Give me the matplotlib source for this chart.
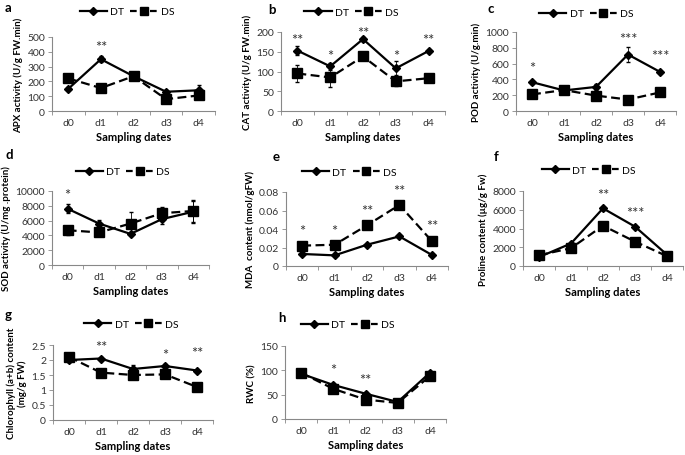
import numpy as np
import matplotlib.pyplot as plt
from matplotlib.ticker import FuncFormatter
from matplotlib.lines import Line2D

plt.rcParams['font.family'] = ['Lato', 'DejaVu Sans']

days = ['d0', 'd1', 'd2', 'd3', 'd4']

# panel data: DT / DS means and error bars
apx_dt = [150, 350, 235, 130, 140]
apx_ds = [220, 155, 235, 80, 105]
apx_dt_err = [10, 20, 10, 15, 35]
apx_ds_err = [10, 10, 10, 15, 15]

cat_dt = [153, 113, 182, 108, 152]
cat_ds = [95, 85, 138, 75, 83]
cat_dt_err = [12, 8, 5, 18, 3]
cat_ds_err = [22, 25, 5, 12, 10]

pod_dt = [365, 260, 305, 715, 495]
pod_ds = [210, 265, 195, 145, 235]
pod_dt_err = [20, 30, 40, 100, 10]
pod_ds_err = [15, 55, 20, 10, 15]

sod_dt = [7600, 5600, 4200, 6200, 7200]
sod_ds = [4700, 4400, 5600, 7000, 7300]
sod_dt_err = [600, 500, 200, 600, 1500]
sod_ds_err = [600, 300, 1500, 800, 1500]

mda_dt = [0.013, 0.0115, 0.023, 0.032, 0.012]
mda_ds = [0.022, 0.023, 0.044, 0.066, 0.027]
mda_dt_err = [0.001, 0.001, 0.001, 0.001, 0.001]
mda_ds_err = [0.001, 0.001, 0.001, 0.001, 0.001]

pro_dt = [950, 2400, 6150, 4200, 1200]
pro_ds = [1150, 1900, 4300, 2600, 1050]
pro_dt_err = [100, 150, 150, 100, 100]
pro_ds_err = [100, 150, 150, 100, 100]

chl_dt = [2.0, 2.05, 1.7, 1.8, 1.65]
chl_ds = [2.1, 1.58, 1.5, 1.52, 1.1]
chl_dt_err = [0.05, 0.05, 0.12, 0.07, 0.03]
chl_ds_err = [0.05, 0.1, 0.1, 0.05, 0.03]

rwc_dt = [93, 70, 52, 35, 95]
rwc_ds = [95, 62, 40, 33, 88]
rwc_dt_err = [2, 3, 3, 2, 2]
rwc_ds_err = [2, 3, 3, 2, 2]

# significance stars: (day index, y, text)
apx_stars = [(1, 430, '**')]
cat_stars = [(0, 180, '**'), (1, 140, '*'), (2, 198, '**'), (3, 140, '*'), (4, 180, '**')]
pod_stars = [(0, 550, '*'), (3, 910, '***'), (4, 690, '***')]
sod_stars = [(0, 9500, '*')]
mda_stars = [(0, 0.038, '*'), (1, 0.038, '*'), (2, 0.059, '**'), (3, 0.081, '**'), (4, 0.043, '**')]
pro_stars = [(2, 7600, '**'), (3, 5700, '***')]
chl_stars = [(1, 2.45, '**'), (3, 2.15, '*'), (4, 2.25, '**')]
rwc_stars = [(1, 100, '*'), (2, 80, '**')]

W, H = 685, 456
fig = plt.figure(figsize=(W / 100, H / 100), dpi=100)


def px_axes(l, t, r, b):
    return fig.add_axes([l / W, 1 - b / H, (r - l) / W, (b - t) / H])


def panel(box, letter, lpos, dt, ds, dte, dse, ymax, ystep, ylabel, stars,
          leg_x=0.45, leg_y=1.27):
    ax = px_axes(*box)
    x = np.arange(1, 6)
    ax.errorbar(x, dt, yerr=dte, color='black', lw=1.6, marker='D', ms=4,
                capsize=1.5, elinewidth=0.6)
    ax.errorbar(x, ds, yerr=dse, color='black', lw=1.6, ls=(0, (4, 2)),
                marker='s', ms=7, capsize=1.5, elinewidth=0.6)
    ax.set_xlim(0.5, 5.5)
    ax.set_ylim(0, ymax)
    ax.set_yticks(np.arange(0, ymax + ystep / 2, ystep))
    ax.yaxis.set_major_formatter(FuncFormatter(lambda v, p: '%g' % round(v, 4)))
    ax.set_xticks(np.arange(0.5, 6, 1))
    ax.set_xticklabels([])
    ax.set_xticks(x, minor=True)
    ax.set_xticklabels(days, minor=True)
    ax.tick_params(axis='x', which='minor', length=0, pad=5, labelsize=7.5,
                   colors='#333333')
    ax.tick_params(axis='x', which='major', length=3, width=0.6, color='#888888')
    ax.tick_params(axis='y', length=3, width=0.6, labelsize=7.5, color='#888888',
                   labelcolor='#333333', pad=2)
    for s in ['top', 'right']:
        ax.spines[s].set_visible(False)
    for s in ['left', 'bottom']:
        ax.spines[s].set_color('#888888')
        ax.spines[s].set_linewidth(0.8)
    ax.set_xlabel('Sampling dates', fontsize=8, fontweight='bold', labelpad=3)
    ax.set_ylabel(ylabel, fontsize=7, fontweight='bold', labelpad=3)
    for i, y, s in stars:
        ax.text(i + 1, y, s, ha='center', va='center', fontsize=10.5, color='#333333')
    handles = [Line2D([], [], color='black', lw=1.6, marker='D', ms=4),
               Line2D([], [], color='black', lw=1.6, ls=(0, (3, 1.5)), marker='s', ms=6)]
    ax.legend(handles, ['DT', 'DS'], loc='center', bbox_to_anchor=(leg_x, leg_y),
              ncol=2, frameon=False, fontsize=7.5, handlelength=2.6,
              columnspacing=0.6, handletextpad=0.3)
    fig.text(lpos[0] / W, 1 - lpos[1] / H, letter, fontsize=9.5, fontweight='bold',
             ha='left', va='center')
    return ax


panel((52, 38, 215, 112), 'a', (5, 8), apx_dt, apx_ds, apx_dt_err, apx_ds_err,
      500, 100, 'APX activity (U/g FW.min)', apx_stars, 0.46, 1.34)
panel((281, 33, 445, 112), 'b', (268, 10), cat_dt, cat_ds, cat_dt_err, cat_ds_err,
      200, 50, 'CAT activity (U/g FW.min)', cat_stars, 0.43, 1.25)
panel((516, 33, 676, 112), 'c', (487, 9), pod_dt, pod_ds, pod_dt_err, pod_ds_err,
      1000, 200, 'POD activity (U/g.min)', pod_stars, 0.44, 1.23)
panel((52, 192, 209, 266), 'd', (5, 155), sod_dt, sod_ds, sod_dt_err, sod_ds_err,
      10000, 2000, 'SOD activity (U/mg .protein)', sod_stars, 0.45, 1.26)
panel((286, 193, 448, 267), 'e', (273, 157), mda_dt, mda_ds, mda_dt_err, mda_ds_err,
      0.08, 0.02, 'MDA  content (nmol/gFW)', mda_stars, 0.39, 1.27)
panel((523, 192, 683, 267), 'f', (494, 157), pro_dt, pro_ds, pro_dt_err, pro_ds_err,
      8000, 2000, 'Proline content (µg/g Fw)', pro_stars, 0.41, 1.28)
panel((53, 346, 213, 421), 'g', (5, 315), chl_dt, chl_ds, chl_dt_err, chl_ds_err,
      2.5, 0.5, 'Chlorophyll (a+b) content\n(mg/g FW)', chl_stars, 0.49, 1.28)
panel((285, 347, 446, 420), 'h', (278, 318), rwc_dt, rwc_ds, rwc_dt_err, rwc_ds_err,
      150, 50, 'RWC (%)', rwc_stars, 0.39, 1.29)

fig.savefig('out.png', dpi=100)
